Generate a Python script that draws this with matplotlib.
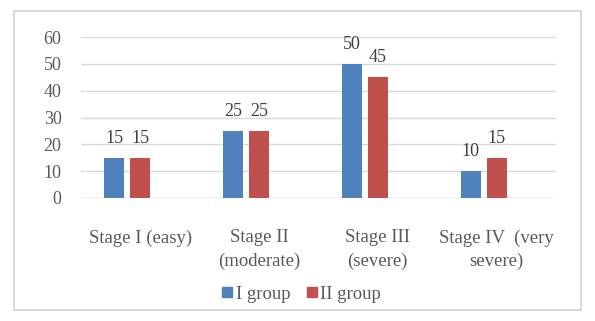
import matplotlib
matplotlib.use("Agg")
import matplotlib.pyplot as plt
import numpy as np
from matplotlib.patches import Rectangle
from matplotlib.lines import Line2D

categories = ["Stage I (easy)", "Stage II\n(moderate)", "Stage III\n(severe)", "Stage IV  (very\nsevere)"]
group1 = [15, 25, 50, 10]
group2 = [15, 25, 45, 15]
series_names = ["I group", "II group"]
yticks = [0, 10, 20, 30, 40, 50, 60]

blue = "#4F81BD"
red = "#C0504D"
W, H = 595, 321
plt.rcParams['font.family'] = ['Liberation Serif', 'DejaVu Serif']

fig = plt.figure(figsize=(W/100, H/100), dpi=100)
ax = fig.add_axes([81/W, 1-198/H, (556-81)/W, (198-37)/H])

x = np.arange(len(categories))
cw = (556-81)/4
bw = 20/cw
step = 26/cw
b1 = ax.bar(x - step, group1, width=bw, color=blue, zorder=3)
b2 = ax.bar(x, group2, width=bw, color=red, zorder=3)
for bars, vals in ((b1, group1), (b2, group2)):
    for r, v in zip(bars, vals):
        ax.annotate(str(v), (r.get_x()+r.get_width()/2, v), xytext=(0, 10.8),
                    textcoords='offset points', ha='center', va='baseline',
                    fontsize=13, color='#404040')

ax.set_xlim(-0.5, 3.5)
ax.set_ylim(0, 60)
ax.set_yticks(yticks)
ax.set_xticks(x)
ax.set_xticklabels(categories, linespacing=1.5)
ax.tick_params(axis='y', length=0, pad=14, labelsize=13, labelcolor='#595959')
ax.tick_params(axis='x', length=0, pad=22.5, labelsize=13.5, labelcolor='#595959')
ax.grid(axis='y', color='#d9d9d9', linewidth=1, zorder=0)
for s in ax.spines.values():
    s.set_visible(False)
ax.axhline(0, color='#d9d9d9', linewidth=1, zorder=2)
ax.set_facecolor('none')

handles = [Line2D([], [], marker='s', linestyle='none', markersize=6.5, color=c) for c in (blue, red)]
fig.legend(handles, series_names, loc='center', bbox_to_anchor=(302/W, 1-294/H),
           ncol=2, frameon=False, fontsize=13.5, handlelength=0.5, handletextpad=0.2,
           columnspacing=0.9, labelcolor='#595959')

fig.patches.append(Rectangle((14/W, 1-310/H), 567/W, 299/H, transform=fig.transFigure,
                             fill=False, edgecolor='#d9d9d9', linewidth=1.5))
fig.savefig("out.png", dpi=100)
